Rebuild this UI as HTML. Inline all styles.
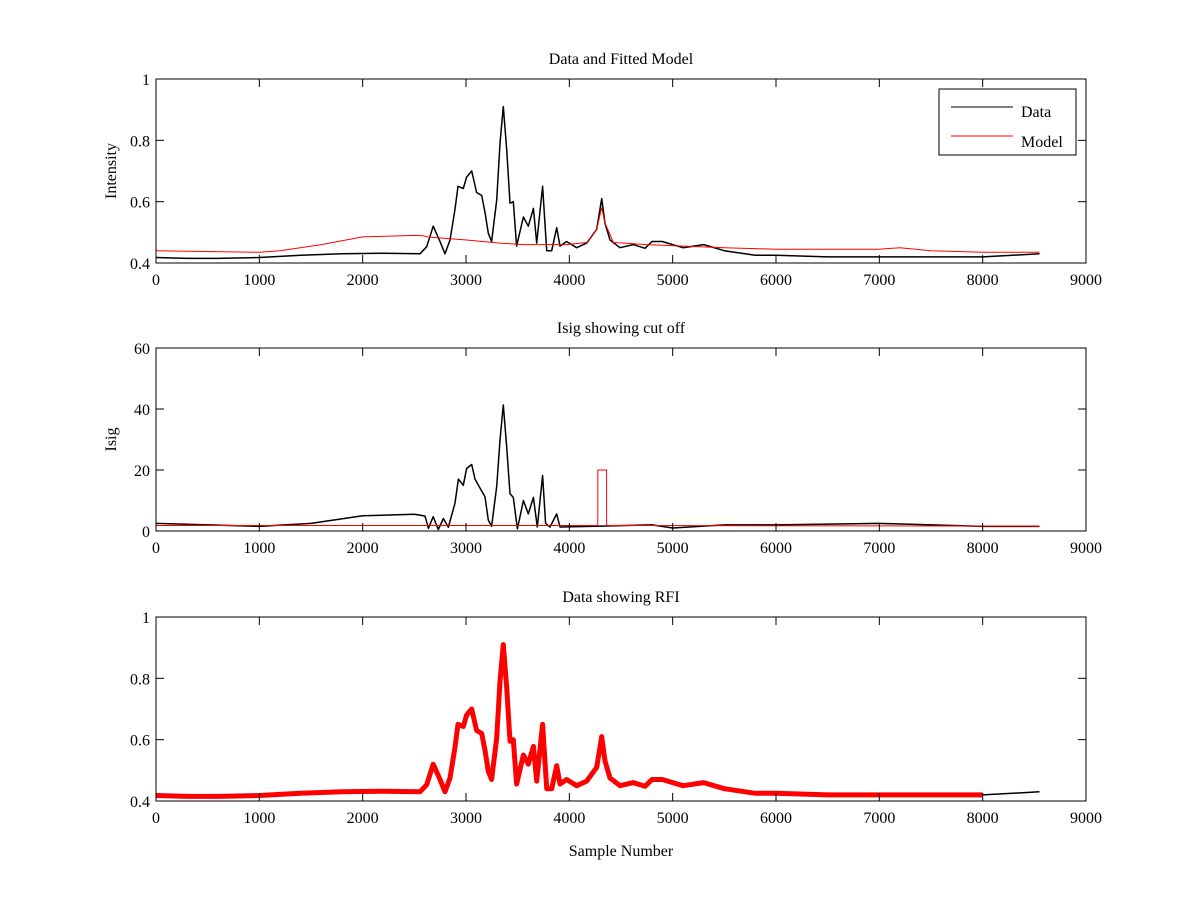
<!DOCTYPE html>
<html><head><meta charset="utf-8"><style>
body{margin:0;background:#fff}
svg text{font-family:"Liberation Serif",serif;font-size:16px;fill:#000}
</style></head><body>
<svg id="fig" width="1200" height="900" xmlns="http://www.w3.org/2000/svg">
<rect width="1200" height="900" fill="#fff"/>
</svg>
<script>
const dataSamples=[0,300,600,1000,1400,1800,2200,2555,2620,2683,2748,2797,2845,2893,2923,2974,3006,3055,3103,3152,3184,3216,3248,3297,3329,3361,3394,3426,3458,3490,3555,3603,3652,3684,3741,3781,3829,3878,3910,3974,4071,4168,4265,4313,4345,4394,4490,4619,4732,4800,4900,5000,5100,5300,5500,5800,6000,6500,7000,7500,8000,8550];
const dataIntensity=[.418,.415,.415,.418,.425,.43,.432,.43,.453,.52,.47,.43,.475,.573,.65,.643,.68,.70,.63,.62,.565,.497,.47,.605,.79,.91,.77,.595,.6,.455,.55,.52,.578,.465,.65,.44,.44,.515,.455,.47,.45,.465,.51,.61,.53,.475,.45,.46,.448,.47,.47,.46,.45,.46,.44,.425,.425,.42,.42,.42,.42,.43];
const modelSamples=[0,1000,1200,1600,2000,2500,2587,2620,3006,3329,3555,3974,4168,4265,4313,4345,4426,4748,5500,6000,7000,7200,7500,8000,8550];
const modelIntensity=[.44,.435,.44,.46,.485,.49,.489,.485,.475,.465,.46,.46,.467,.51,.58,.53,.467,.46,.45,.445,.445,.45,.44,.435,.435];
const isigSamples=[0,500,1000,1500,2000,2500,2555,2603,2636,2683,2732,2781,2829,2893,2926,2974,3006,3055,3087,3136,3184,3216,3248,3297,3329,3361,3394,3426,3458,3497,3555,3603,3652,3690,3741,3770,3813,3878,3910,4200,4800,5000,5500,6000,7000,8000,8550];
const isigValues=[2.5,2,1.5,2.5,5,5.5,5.2,4.9,.9,4.7,.5,4.1,1.2,9,17,15,20.5,21.8,17,14,11.2,3.6,1.5,14.6,29.8,41.3,27.5,12.2,11,.7,10,5.6,11,1.3,18.2,2.5,1.3,5.6,1.3,1.5,2,1,2,2,2.5,1.5,1.5];
const cutSamples=[0,4275,4275,4361,4361,8550];
const cutValues=[1.8,1.8,20,20,1.8,1.6];
const rfiEnd=8000;
const xTicks=[0,1000,2000,3000,4000,5000,6000,7000,8000,9000];
const yTicks1=[0.4,0.6,0.8,1];
const yTicks2=[0,20,40,60];

const svg=document.getElementById('fig');
const NS='http://www.w3.org/2000/svg';
function mk(t,a,parent){const e=document.createElementNS(NS,t);for(const k in a)e.setAttribute(k,a[k]);(parent||svg).appendChild(e);return e;}
const L=156,R=1086;
const sx=v=>L+(v/9000)*(R-L);
function axes(name,top,bot,ymin,ymax,yTicks,title,ylabel){
  const g=mk('g',{});
  
  
  const sy=v=>bot-(v-ymin)/(ymax-ymin)*(bot-top);
  return {g,sy,top,bot,draw(){
    const fr=mk('rect',{x:L,y:top,width:R-L,height:bot-top,fill:'none',stroke:'#000','stroke-width':1},g);
    
    xTicks.forEach(t=>{const x=sx(t);
      mk('line',{x1:x,x2:x,y1:bot,y2:bot-8,stroke:'#000'},g);
      mk('line',{x1:x,x2:x,y1:top,y2:top+8,stroke:'#000'},g);
      const tx=mk('text',{x:x,y:bot+22,'text-anchor':'middle'},g);tx.textContent=t;
      });
    yTicks.forEach(t=>{const y=sy(t);
      mk('line',{x1:L,x2:L+8,y1:y,y2:y,stroke:'#000'},g);
      mk('line',{x1:R,x2:R-8,y1:y,y2:y,stroke:'#000'},g);
      const tx=mk('text',{x:L-6,y:y+6,'text-anchor':'end'},g);tx.textContent=t;
      });
    const ti=mk('text',{x:(L+R)/2,y:top-15,'text-anchor':'middle'},g);ti.textContent=title;
    
    const yl=mk('text',{x:0,y:0,'text-anchor':'middle',transform:`translate(${L-40},${(top+bot)/2}) rotate(-90)`},g);yl.textContent=ylabel;
    
  }};
}
function line(ax,xs,ys,color,w,name,filter){
  let d='';xs.forEach((x,i)=>{if(filter&&!filter(x))return;d+=(d?'L':'M')+sx(x).toFixed(1)+','+ax.sy(ys[i]).toFixed(1);});
  const p=mk('path',{d,fill:'none',stroke:color,'stroke-width':w,'stroke-linejoin':'round'},ax.g);
  
}
const a1=axes('data-model-plot',79,263,0.4,1,yTicks1,'Data and Fitted Model','Intensity');
line(a1,dataSamples,dataIntensity,'#000',1.5,'data-line');
line(a1,modelSamples,modelIntensity,'#f00',1,'model-line');
a1.draw();
const lg=mk('g',{},a1.g);

mk('rect',{x:939,y:89,width:137,height:66,fill:'#fff',stroke:'#000'},lg);
mk('line',{x1:951,x2:1013,y1:107,y2:107,stroke:'#000'},lg);
mk('line',{x1:951,x2:1013,y1:136,y2:136,stroke:'#f00'},lg);
const t1=mk('text',{x:1021,y:117},lg);t1.textContent='Data';

const t2=mk('text',{x:1021,y:147},lg);t2.textContent='Model';


const a2=axes('isig-plot',348,531,0,60,yTicks2,'Isig showing cut off','Isig');
line(a2,isigSamples,isigValues,'#000',1.5,'isig-line');
line(a2,cutSamples,cutValues,'#f00',1,'cutoff-line');
a2.draw();

const a3=axes('rfi-plot',617,801,0.4,1,yTicks1,'Data showing RFI','');
line(a3,dataSamples,dataIntensity,'#000',1.5,'data-line-rfi');
line(a3,dataSamples,dataIntensity,'#f00',5,'rfi-markers',x=>x<=rfiEnd);
a3.draw();
const xl=mk('text',{x:(L+R)/2,y:856,'text-anchor':'middle'});xl.textContent='Sample Number';

</script>
</body></html>
